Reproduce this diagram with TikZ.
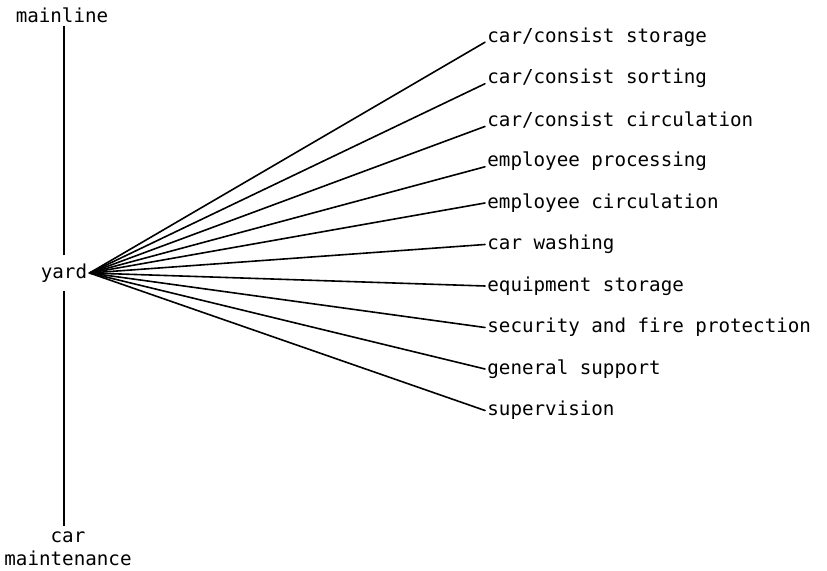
\documentclass[tikz,border=0pt]{standalone}
\usepackage{fontspec}
\setmonofont{DejaVu Sans Mono}
\tikzset{
    trunk line/.style={line width=1pt, black},
    branch line/.style={line width=.8pt, black, line cap=round},
    yard label/.style={font=\labelfont, inner xsep=1pt, inner ysep=4pt, fill=white},
    end label/.style={font=\labelfont, inner sep=1.5pt, align=center},
    function label/.style={font=\labelfont, inner sep=1pt, anchor=west}
}
\newcommand{\labelfont}{\ttfamily\fontsize{9.6}{11.5}\selectfont}

\begin{document}
\begin{tikzpicture}[x=.5pt,y=-.5pt]
    \useasboundingbox (0,0) rectangle (827,571);

    % the track running through the yard
    \node[end label] (mainline) at (62,15) {mainline};
    \node[yard label] (yard) at (64,273) {yard};
    \node[end label, inner ysep=3pt] (carmaint) at (68,549) {car\\maintenance};
    \draw[trunk line] (yard.north) -- (yard.north |- mainline.south);
    \draw[trunk line] (yard.south) -- (yard.south |- carmaint.north);

    % yard functions
    \node[function label] (f1) at (485,37) {car/consist storage};
    \node[function label] (f2) at (485,78.5) {car/consist sorting};
    \node[function label] (f3) at (485,120) {car/consist circulation};
    \node[function label] (f4) at (485,161.5) {employee processing};
    \node[function label] (f5) at (485,203) {employee circulation};
    \node[function label] (f6) at (485,244.5) {car washing};
    \node[function label] (f7) at (485,286) {equipment storage};
    \node[function label] (f8) at (485,327.5) {security and fire protection};
    \node[function label] (f9) at (485,369) {general support};
    \node[function label] (f10) at (485,410.5) {supervision};

    \draw[branch line] (yard.east) -- (f1.base west);
    \draw[branch line] (yard.east) -- (f2.base west);
    \draw[branch line] (yard.east) -- (f3.base west);
    \draw[branch line] (yard.east) -- (f4.base west);
    \draw[branch line] (yard.east) -- (f5.west);
    \draw[branch line] (yard.east) -- (f6.west);
    \draw[branch line] (yard.east) -- (f7.west);
    \draw[branch line] (yard.east) -- (f8.west);
    \draw[branch line] (yard.east) -- (f9.west);
    \draw[branch line] (yard.east) -- (f10.west);
\end{tikzpicture}
\end{document}
